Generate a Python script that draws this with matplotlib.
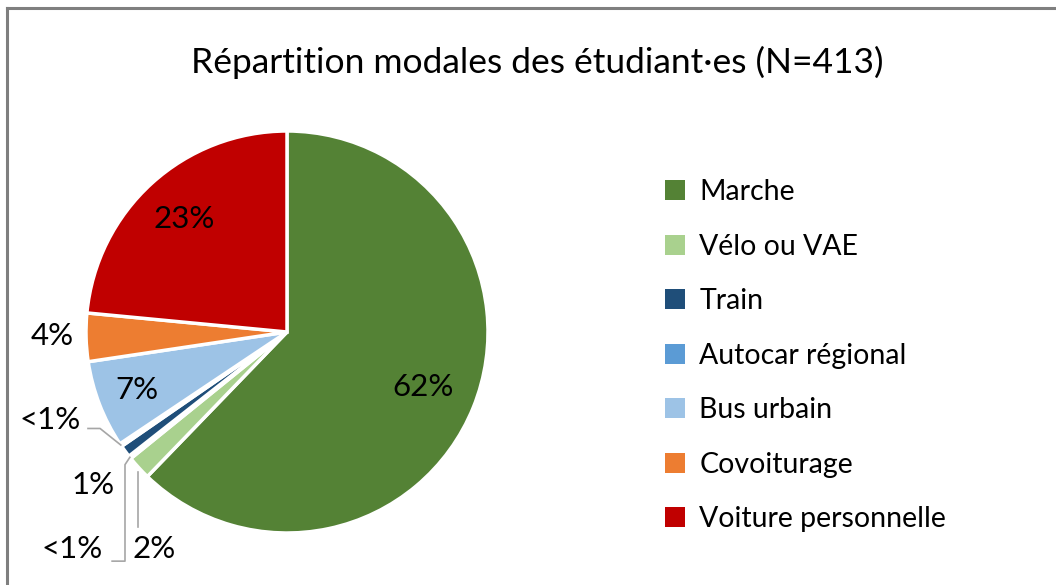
import numpy as np
import matplotlib.pyplot as plt
from matplotlib.lines import Line2D

plt.rcParams['font.family'] = ['Lato', 'DejaVu Sans']

# effectifs par mode (N=413)
modes = ["Marche", "Vélo ou VAE", "Autre", "Train", "Autocar régional",
         "Bus urbain", "Covoiturage", "Voiture personnelle"]
effectifs = [257, 8, 1, 4, 1, 29, 16, 97]
couleurs = ["#548235", "#A9D18E", "#E7E6E6", "#1F4E79", "#5B9BD5",
            "#9DC3E6", "#ED7D31", "#C00000"]
dans_legende = [True, True, False, True, True, True, True, True]

total = sum(effectifs)
pct = [100 * e / total for e in effectifs]
etiquettes = ["<1%" if round(p) < 1 else "%d%%" % round(p) for p in pct]

fig = plt.figure(figsize=(10.56, 5.85), dpi=100)
W, H = 1056, 585

# cadre gris (haut et gauche)
fig.add_artist(Line2D([7/W, 7/W], [0, 1 - 8/H], color="#7f7f7f", lw=2.2,
                      transform=fig.transFigure))
fig.add_artist(Line2D([7/W, 1], [1 - 8/H, 1 - 8/H], color="#7f7f7f", lw=2.2,
                      transform=fig.transFigure))

cx, cy, r = 287, 332, 201
ax = fig.add_axes([(cx - r)/W, (H - cy - r)/H, 2*r/W, 2*r/H])
wedges, _ = ax.pie(effectifs, colors=couleurs, startangle=90, counterclock=False,
                   radius=1, wedgeprops=dict(edgecolor="white", linewidth=2.5))
ax.set_xlim(-1, 1)
ax.set_ylim(-1, 1)
ax.set_aspect("equal")
ax.axis("off")


def point(w, rr):
    a = np.deg2rad((w.theta1 + w.theta2) / 2)
    return rr * np.cos(a), rr * np.sin(a)


fs = 22.5
# étiquettes internes
for i, rr in [(0, 0.73), (5, 0.80), (7, 0.76)]:
    x, y = point(wedges[i], rr)
    ax.text(x, y, etiquettes[i], ha="center", va="center", fontsize=fs)

# étiquettes externes
ax.text(-1.17, -0.02, etiquettes[6], ha="center", va="center", fontsize=fs)
ax.text(-0.965, -0.76, etiquettes[3], ha="center", va="center", fontsize=fs)

gris = "#a6a6a6"
# Autocar
ax.text(-1.18, -0.44, etiquettes[4], ha="center", va="center", fontsize=fs)
x0, y0 = point(wedges[4], 1.0)
ax.plot([-0.99, -0.93, x0], [-0.48, -0.48, y0], color=gris, lw=1.2, clip_on=False)
# Autre
ax.text(-1.07, -1.08, etiquettes[2], ha="center", va="center", fontsize=fs)
x0, y0 = point(wedges[2], 1.0)
ax.plot([-0.87, -0.806, -0.806, x0], [-1.14, -1.14, -0.66, y0],
        color=gris, lw=1.2, clip_on=False)
# Vélo
ax.text(-0.66, -1.08, etiquettes[1], ha="center", va="center", fontsize=fs)
x0, y0 = point(wedges[1], 1.03)
ax.plot([-0.74, -0.74], [y0, -0.97], color=gris, lw=1.2, clip_on=False)

fig.text(537/W, 1 - 62/H, "Répartition modales des étudiant·es (N=413)",
         ha="center", va="center", fontsize=25.5)

handles = [w for w, k in zip(wedges, dans_legende) if k]
noms = [m for m, k in zip(modes, dans_legende) if k]
leg = fig.legend(handles, noms, loc="upper left", bbox_to_anchor=(651/W, 1 - 165/H),
                 frameon=False, fontsize=20.5, handlelength=0.7, handleheight=0.7,
                 handletextpad=0.5, labelspacing=1.0, borderpad=0)
for p in leg.get_patches():
    p.set_edgecolor("none")

fig.savefig("out.png", dpi=100)
